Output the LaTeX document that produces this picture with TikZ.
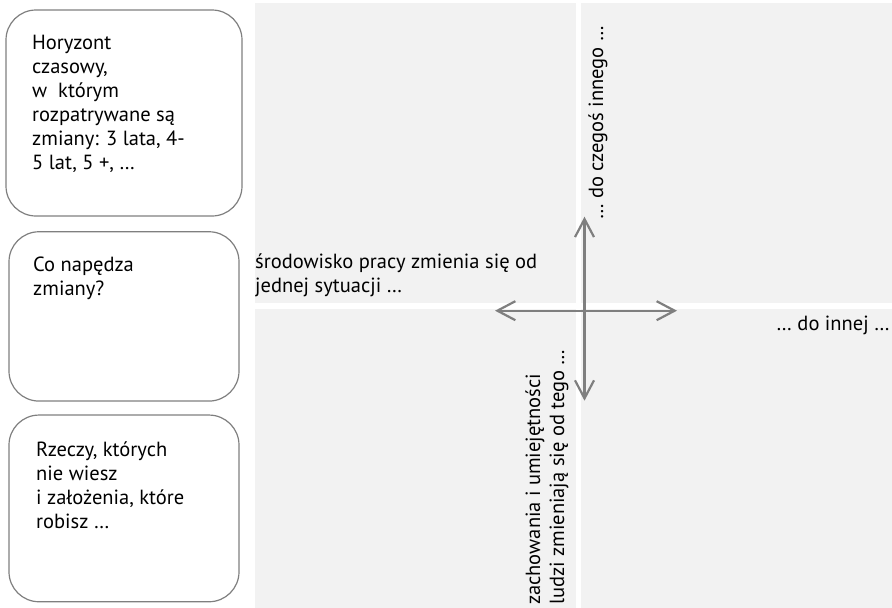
\documentclass[tikz,border=0pt]{standalone}
\usepackage{fontspec}
\setmainfont{PT Sans}
\usetikzlibrary{arrows.meta}
\definecolor{quad}{HTML}{F2F2F2}
\definecolor{edge}{HTML}{7F7F7F}
\tikzset{
  quadrant/.style={fill=quad, draw=none},
  infobox/.style={draw=edge, line width=1.2pt, rounded corners=30pt, rectangle, inner sep=0pt},
  lbl/.style={inner sep=0pt, font=\fontsize{20.5}{24}\selectfont, align=left},
  axis/.style={draw=edge, line width=2.2pt,
    {Straight Barb[length=18pt,width=19pt]}-{Straight Barb[length=18pt,width=19pt]}},
}
\begin{document}
\begin{tikzpicture}[x=1pt,y=-1pt]
\useasboundingbox (0,0) rectangle (892,608);
% quadrants
\fill[quadrant] (255,3) rectangle (575.5,302.7);
\fill[quadrant] (581,3) rectangle (892,302.7);
\fill[quadrant] (255,309.3) rectangle (575.5,608);
\fill[quadrant] (581,309.3) rectangle (892,608);
% left boxes
\node[infobox, minimum width=236pt, minimum height=206pt] (box1) at (124,113) {};
\node[infobox, minimum width=230pt, minimum height=169.3pt] (box2) at (124,316.4) {};
\node[infobox, minimum width=230pt, minimum height=186.7pt] (box3) at (124,508.4) {};
\node[lbl, anchor=base west] (t1) at (32,169) {Horyzont\\czasowy,\\w~ którym\\rozpatrywane są\\zmiany: 3 lata, 4-\\5 lat, 5 +, …};
\node[lbl, anchor=base west] (t2) at (33,295) {Co napędza\\zmiany?};
\node[lbl, anchor=base west] (t3) at (36,528) {Rzeczy, których\\nie wiesz\\i założenia, które\\robisz …};
% quadrant labels
\node[lbl, anchor=base west] (left) at (255,292) {środowisko pracy zmienia się od\\jednej sytuacji …};
\node[lbl, anchor=base east] (right) at (890,330) {… do innej …};
\node[lbl, anchor=base west, rotate=90] (up) at (603,220) {… do czegoś innego …};
\node[lbl, anchor=base west, rotate=90] (down) at (564,605) {zachowania i umiejętności\\ludzi zmieniają się od tego …};
% axes
\coordinate (hw) at (495,310.7);
\coordinate (he) at (677,310.7);
\coordinate (vn) at (584.5,216.7);
\coordinate (vs) at (584.5,400.7);
\draw[axis] (hw) -- (he);
\draw[axis] (vn) -- (vs);
\end{tikzpicture}
\end{document}
